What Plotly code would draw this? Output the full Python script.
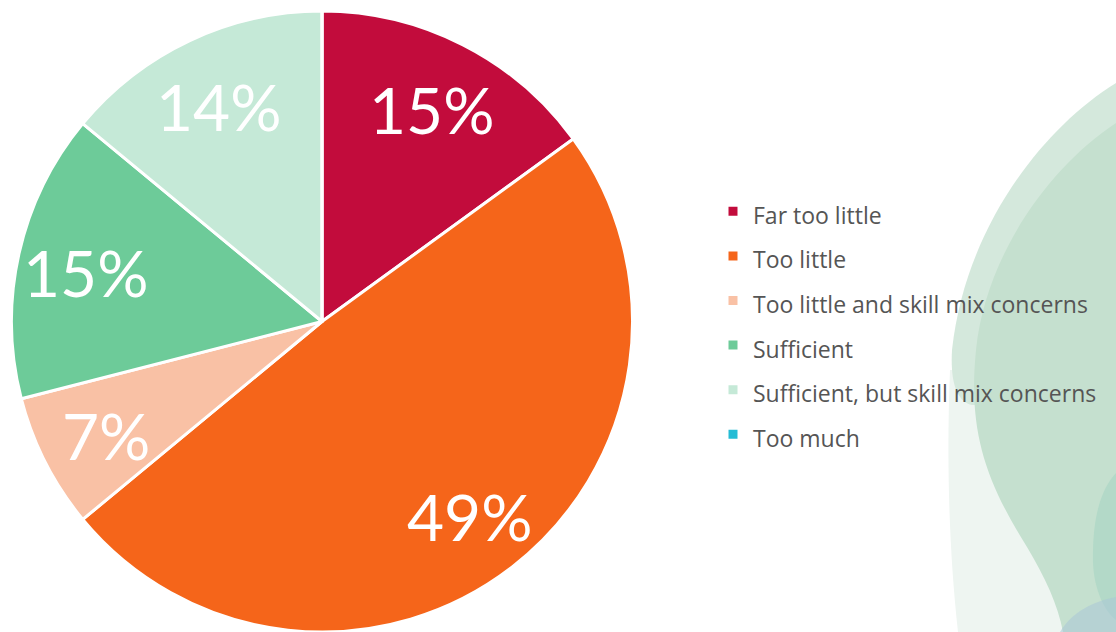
import math
import plotly.graph_objects as go

# Survey responses: share of respondents per staffing assessment
categories = [
    "Far too little",
    "Too little",
    "Too little and skill mix concerns",
    "Sufficient",
    "Sufficient, but skill mix concerns",
    "Too much",
]
shares = [15, 49, 7, 15, 14, 0]
slice_colors = ["#C20C3C", "#F5651A", "#F9C1A5", "#6DCB99", "#C5E9D7", "#25BCD5"]

W, H = 1116, 632

# Pie placement (pixels)
PIE_X0, PIE_X1 = 9, 635
PIE_Y_TOP, PIE_Y_BOT = 11, 632
cx = (PIE_X0 + PIE_X1) / 2
cy = (PIE_Y_TOP + PIE_Y_BOT) / 2
radius = min(PIE_X1 - PIE_X0, PIE_Y_BOT - PIE_Y_TOP) / 2
LABEL_R = 0.78  # label distance as a fraction of the radius

legend_names = [f"<span style='font-size:23px'>{c}</span>" for c in categories]

fig = go.Figure(
    go.Pie(
        labels=legend_names,
        values=shares,
        textinfo="none",
        sort=False,
        direction="clockwise",
        rotation=0,
        marker=dict(colors=slice_colors, line=dict(color="white", width=3)),
        hoverinfo="skip",
        domain=dict(x=[PIE_X0 / W, PIE_X1 / W], y=[1 - PIE_Y_BOT / H, 1 - PIE_Y_TOP / H]),
        showlegend=True,
    )
)

# Percentage labels placed along each slice's mid-angle (clockwise from 12 o'clock)
total = sum(shares)
annotations = []
acc = 0
for v in shares:
    mid = (acc + v / 2) / total * 2 * math.pi
    acc += v
    if not v:
        continue
    px = cx + LABEL_R * radius * math.sin(mid)
    py = cy - LABEL_R * radius * math.cos(mid)
    annotations.append(dict(
        x=px / W, y=1 - py / H, xref="paper", yref="paper", yshift=-4,
        text=f"{v}%", showarrow=False, xanchor="center", yanchor="middle",
        font=dict(family="Lato", size=64, color="white"),
    ))


def px_path(start, segs):
    """Closed SVG path in paper units from pixel points; 6-tuples are cubic segments."""
    def p(x, y):
        return f"{x / W:.5f},{1 - y / H:.5f}"
    d = f"M{p(*start)}"
    for s in segs:
        if len(s) == 6:
            d += f" C{p(s[0], s[1])} {p(s[2], s[3])} {p(s[4], s[5])}"
        else:
            d += f" L{p(*s)}"
    return d + " Z"


# Soft background blobs on the right edge
blobs = [
    ("#eef5f1", (950, 370), [(946, 470, 950, 560, 958, 632), (1116, 632), (1116, 370)]),
    ("#d4e8dc", (1116, 83), [(1040, 130, 965, 230, 952, 350),
                             (950, 385, 958, 402, 972, 405), (1116, 405)]),
    ("#c5e0cf", (1116, 123), [(1045, 170, 985, 260, 976, 350),
                              (968, 430, 985, 480, 1027, 547),
                              (1045, 577, 1058, 605, 1063, 632), (1116, 632)]),
    ("#b3d9c8", (1116, 473), [(1100, 490, 1092, 520, 1093, 563),
                              (1094, 590, 1105, 612, 1116, 620)]),
    ("rgba(170,198,215,0.55)", (1060, 632), [(1072, 612, 1092, 602, 1116, 597), (1116, 632)]),
]
shapes = [
    dict(type="path", xref="paper", yref="paper", path=px_path(start, segs),
         fillcolor=col, line=dict(width=0), layer="below")
    for col, start, segs in blobs
]

fig.update_layout(
    width=W,
    height=H,
    margin=dict(l=0, r=0, t=0, b=0),
    paper_bgcolor="white",
    plot_bgcolor="white",
    shapes=shapes,
    annotations=annotations,
    legend=dict(
        x=713 / W,
        xanchor="left",
        y=1 - 184 / H,
        yanchor="top",
        font=dict(family="Open Sans", size=32, color="#555555"),
        bgcolor="rgba(0,0,0,0)",
    ),
)

fig.write_html("out.html")
